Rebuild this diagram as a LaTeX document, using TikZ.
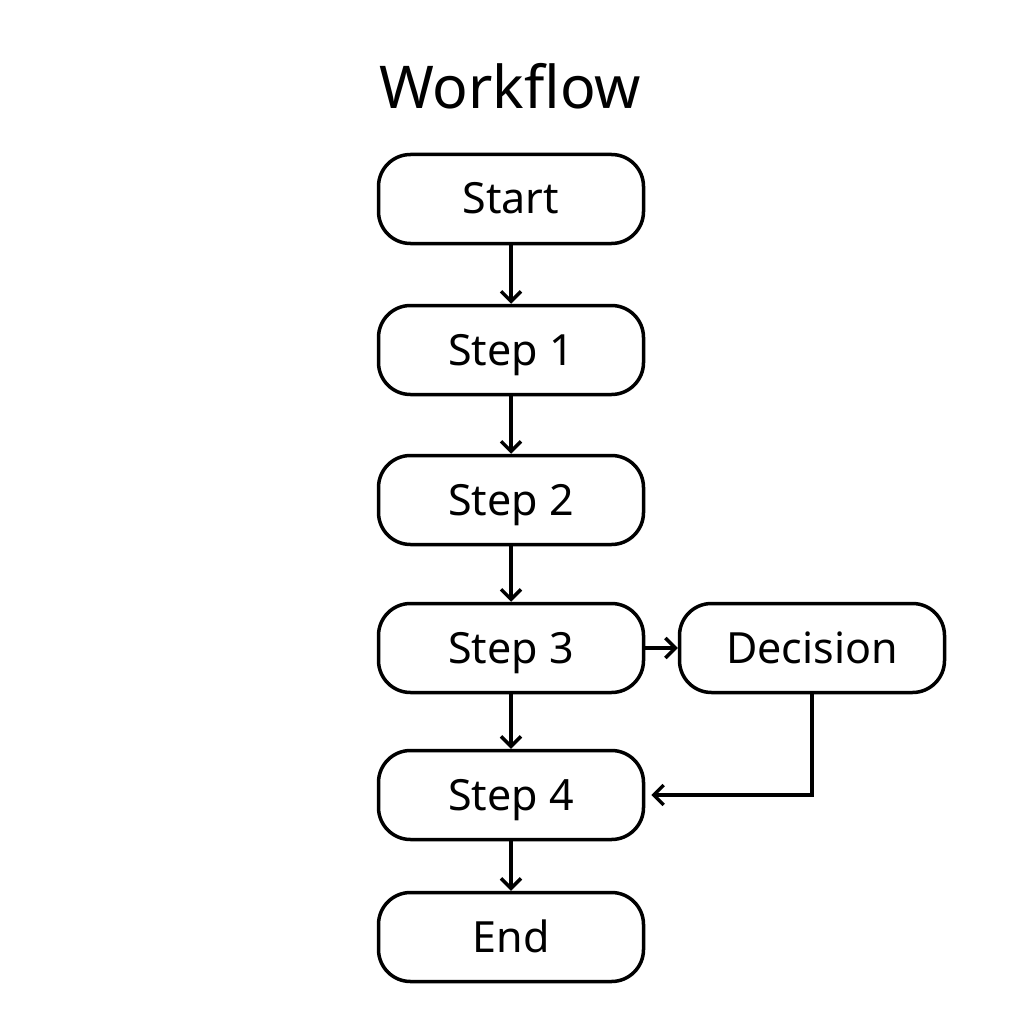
\documentclass[tikz,border=0pt]{standalone}
\usepackage{fontspec}
\setmainfont{Noto Sans}
\usetikzlibrary{arrows.meta}
\begin{document}
\begin{tikzpicture}[x=1pt,y=-1pt,
  box/.style={draw=black, line width=3.5pt, rounded corners=32pt, minimum width=265pt, minimum height=89pt, inner sep=0pt, text height=30pt, text depth=0pt, font=\fontsize{43pt}{48pt}\selectfont},
  conn/.style={line width=3.5pt, -{Straight Barb[length=10pt,width=20pt,line width=3.5pt]}}]
\useasboundingbox (0,0) rectangle (1024,1024);
\fill[white] (0,0) rectangle (1024,1024);
\node[font=\fontsize{59pt}{66pt}\selectfont] (title) at (510,86) {Workflow};
\node[box] (start) at (511,199) {Start};
\node[box] (s1) at (511,350) {Step 1};
\node[box] (s2) at (511,500) {Step 2};
\node[box] (s3) at (511,648) {Step 3};
\node[box] (dec) at (812,648) {Decision};
\node[box] (s4) at (511,795) {Step 4};
\node[box] (end) at (511,937) {End};
\coordinate (corner) at (812,795);
\draw[conn] (start) -- (s1);
\draw[conn] (s1) -- (s2);
\draw[conn] (s2) -- (s3);
\draw[conn] (s3) -- (dec);
\draw[conn] (s3) -- (s4);
\draw[conn] (s4) -- (end);
\draw[conn] (dec.south) -- (corner) -- ([xshift=6pt]s4.east);
\end{tikzpicture}
\end{document}
